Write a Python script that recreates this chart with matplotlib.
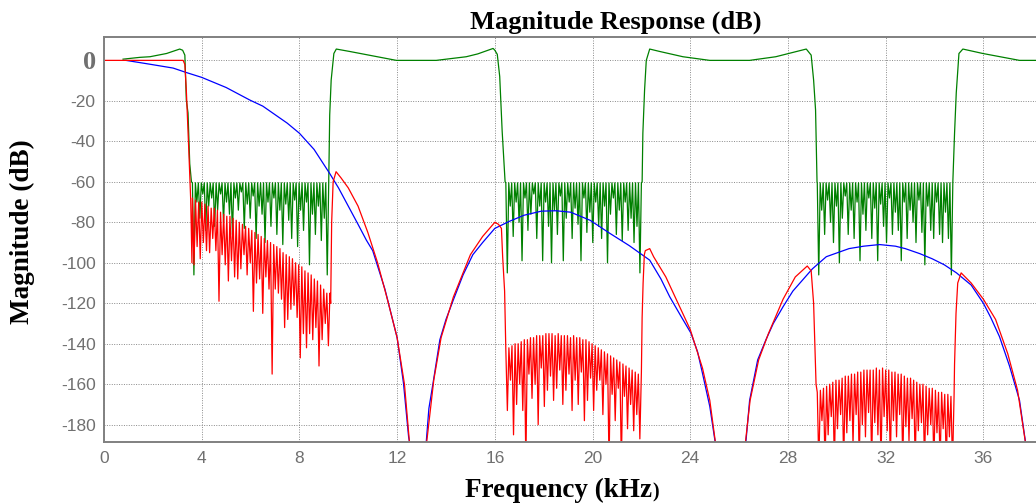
import numpy as np
import matplotlib
matplotlib.use('Agg')
import matplotlib.pyplot as plt

# ---- data (frequency in kHz, magnitude in dB) ----
# blue curve (None = break between lobes)
blue_f = [0.9, 1.88, 2.83, 3.37, 4.0, 5.0, 5.97, 6.5, 7.0, 7.5, 8.0, 8.6, 9.23, 9.6, 10.0, 10.4,
          10.74, 11.0, 11.5, 12.0, 12.26, 12.47, 12.6,
          None,
          13.15, 13.3, 13.47, 13.75, 14.0, 14.3, 14.7, 15.1, 15.5, 16.0, 16.6, 17.2, 17.9, 18.5,
          19.1, 19.9, 20.7, 21.5, 22.34, 22.8, 23.16, 23.6, 24.03, 24.3, 24.5, 24.8, 25.1,
          None,
          26.23, 26.43, 26.76, 27.1, 27.4, 27.8, 28.2, 28.6, 29.0, 29.57, 30.5, 31.1, 31.75, 32.4,
          32.8, 33.4, 33.9, 34.4, 34.9, 35.5, 36.0, 36.3, 36.66, 37.07, 37.48, 37.8]
blue_db = [0, -1.9, -3.8, -6, -8.4, -13.4, -19.6, -22.6, -26.8, -31, -36, -44, -55.7, -63, -72, -81,
           -88.8, -94, -113, -137, -159.5, -186, -195,
           None,
           -195, -172, -159.5, -138, -128, -118.4, -106, -96, -90, -83, -79.5, -76.5, -74.5, -74.3,
           -75, -79, -85.4, -91.5, -98.7, -108, -116.8, -126, -134.8, -144, -154.6, -171, -195,
           None,
           -195, -168, -148, -138, -130, -121.7, -114, -108.5, -103, -97, -93, -91.8, -91, -91.8,
           -93, -95.5, -98, -101, -105, -111, -120, -127, -136.5, -151, -168, -195]

# green curve: passbands / transitions
green_pass_f = [
    [0.78, 1.47, 1.88, 2.56, 3.1, 3.22, 3.31, 3.37, 3.44, 3.51, 3.58],
    [9.2, 9.24, 9.3, 9.41, 9.51, 10.06, 10.88, 11.97, 13.6, 14.83, 15.3, 15.93, 16.0, 16.1, 16.2, 16.3, 16.42],
    [22.03, 22.06, 22.13, 22.2, 22.34, 22.75, 23.7, 24.8, 26.43, 27.5, 28.75, 28.95, 29.05, 29.13, 29.19],
    [34.75, 34.82, 34.89, 35.0, 35.16, 35.98, 37.48, 38.4],
]
green_pass_db = [
    [0.6, 1.5, 1.8, 3.4, 5.6, 5.0, 2.6, -19.6, -26, -51, -60],
    [-60, -27, -9.7, 3.4, 5.6, 4.4, 2.5, 0, 0, 1.8, 3.2, 5.9, 5.0, 3.0, -8, -35, -60],
    [-60, -36, -14.7, 0, 5.6, 4.4, 1.8, 0, 0, 1.8, 5.6, 2.6, -9.7, -24.5, -60],
    [-60, -36, -16, 3.4, 5.6, 3.4, 0, 0],
]
# green stopbands: edges and the depth of each notch
green_stop_edges = [(3.62, 9.2), (16.45, 22.0), (29.2, 34.75)]
green_stop_top = -60.5
green_notch_1 = [-106, -70, -78, -66, -84, -72, -68, -82, -74, -66, -80, -70, -76, -86, -68, -74,
                 -65, -83, -71, -78, -67, -88, -72, -76, -90, -70, -82, -68, -86, -74, -91, -71,
                 -79, -88, -69, -92, -74, -84, -70, -101, -76, -86, -72, -89, -78, -106]
green_notch_2 = [-105, -72, -87, -70, -80, -99, -68, -84, -76, -66, -88, -72, -99, -70, -82, -100,
                 -74, -86, -67, -99, -78, -70, -88, -73, -81, -99, -68, -85, -75, -90, -70, -82,
                 -88, -72, -100, -76, -68, -86, -74, -89, -70, -84, -78, -90, -82, -105]
green_notch_3 = [-106, -74, -86, -69, -80, -90, -72, -100, -78, -67, -86, -74, -88, -70, -99, -76,
                 -84, -68, -88, -73, -99, -71, -82, -90, -68, -86, -75, -84, -99, -70, -88, -74,
                 -80, -90, -69, -85, -101, -72, -84, -88, -70, -86, -90, -75, -88, -106]

# red curve: passband / main lobes
red_pass_f = [
    [0, 3.24, 3.31, 3.37, 3.47, 3.55, 3.6],
    [9.28, 9.32, 9.38, 9.5, 9.7, 10.0, 10.4, 10.8, 11.2, 11.6, 12.0, 12.3, 12.55],
    [13.15, 13.5, 13.8, 14.3, 15.0, 15.5, 16.0, 16.15, 16.27, 16.32, 16.4],
    [22.0, 22.03, 22.07, 22.12, 22.16, 22.34, 22.5, 23.0, 23.5, 24.0, 24.5, 24.8, 25.1],
    [26.2, 26.45, 26.8, 27.2, 27.8, 28.3, 28.79, 28.95, 29.05, 29.1, 29.15],
    [34.82, 34.88, 34.95, 35.09, 35.5, 36.0, 36.5, 37.0, 37.4, 37.8],
]
red_pass_db = [
    [0, 0, -2, -14.7, -44, -69, -100],
    [-120, -80, -60, -55, -58, -63, -72, -85, -100, -118, -137, -160, -195],
    [-195, -158, -137, -117, -96, -87, -80, -81, -83, -97, -114],
    [-154, -127, -110, -96, -94, -93, -97, -107, -120, -133, -152, -168, -195],
    [-195, -168, -148, -135, -118, -107, -101.6, -104, -120, -140, -160],
    [-150, -125, -110, -105, -110, -118, -128, -145, -163, -195],
]
red_stop_edges = [(3.62, 9.25), (16.45, 22.0), (29.2, 34.8)]
red_top_1 = [-68, -69, -70, -70, -71, -72, -73, -73, -74, -75, -76, -77, -77, -78, -79, -80,
             -81, -82, -83, -84, -85, -86, -87, -88, -89, -90, -91, -92, -93, -95, -96, -97,
             -98, -100, -101, -102, -104, -105, -106, -108, -109, -111, -113, -115]
red_dip_1 = [-101, -92, -98, -90, -94, -95, -88, -94, -119, -96, -101, -109, -99, -107, -108, -103,
             -96, -106, -100, -124, -110, -108, -125, -107, -113, -155, -113, -115, -118, -132,
             -128, -123, -121, -127, -147, -135, -142, -135, -138, -132, -151, -138, -130, -141]
red_top_2 = [-143, -142, -141, -140, -140, -139, -138, -138, -137, -137, -136, -136, -136, -135,
             -135, -135, -136, -135, -136, -136, -136, -137, -136, -137, -137, -138, -138, -139,
             -140, -141, -142, -143, -144, -145, -146, -147, -148, -149, -150, -151, -152, -153,
             -154, -155]
red_dip_2 = [-173, -158, -185, -170, -160, -173, -200, -155, -167, -160, -180, -152, -171, -163,
             -156, -168, -162, -153, -170, -163, -155, -173, -158, -170, -154, -178, -168, -157,
             -173, -163, -158, -175, -160, -200, -165, -178, -162, -200, -166, -182, -170, -183,
             -175, -187]
red_top_3 = [-164, -163, -162, -161, -160, -159, -158, -158, -157, -156, -156, -155, -155, -154,
             -154, -153, -153, -153, -153, -152, -153, -152, -153, -153, -154, -154, -155, -155,
             -156, -157, -157, -158, -159, -160, -160, -161, -162, -162, -163, -164, -164, -165,
             -165, -166]
red_dip_3 = [-200, -178, -200, -185, -176, -200, -182, -175, -200, -184, -178, -190, -175, -200,
             -180, -186, -174, -200, -179, -185, -200, -176, -183, -200, -178, -186, -175, -200,
             -181, -188, -177, -200, -183, -179, -200, -185, -180, -200, -184, -200, -182, -200,
             -186, -200]

x_ticks = [0, 4, 8, 12, 16, 20, 24, 28, 32, 36]
y_ticks = [0, -20, -40, -60, -80, -100, -120, -140, -160, -180]


def ripple(f0, f1, tops, dips):
    # alternate lobe tops and notches across the band
    n = len(dips)
    xs = np.linspace(f0, f1, 2 * n + 1)
    ys = []
    for i in range(n):
        ys.append(tops[i])
        ys.append(dips[i])
    ys.append(tops[-1])
    return list(xs), ys


def to_arr(vals):
    return np.array([np.nan if v is None else v for v in vals], dtype=float)


green_pieces = [ripple(a, b, [green_stop_top] * len(n), n)
                for (a, b), n in zip(green_stop_edges, [green_notch_1, green_notch_2, green_notch_3])]
green_f, green_db = [], []
for i in range(len(green_pass_f)):
    green_f += green_pass_f[i]
    green_db += green_pass_db[i]
    if i < len(green_pieces):
        green_f += green_pieces[i][0]
        green_db += green_pieces[i][1]

red_pieces = [ripple(a, b, t, n) for (a, b), t, n in
              zip(red_stop_edges, [red_top_1, red_top_2, red_top_3], [red_dip_1, red_dip_2, red_dip_3])]
# order: pass0, lobes1, pass1 | pass2, lobes2, pass3 | pass4, lobes3, pass5
red_f, red_db = [], []
order = [('p', 0), ('r', 0), ('p', 1), ('n', 0), ('p', 2), ('r', 1), ('p', 3), ('n', 0),
         ('p', 4), ('r', 2), ('p', 5)]
for kind, k in order:
    if kind == 'p':
        red_f += red_pass_f[k]
        red_db += red_pass_db[k]
    elif kind == 'r':
        red_f += red_pieces[k][0]
        red_db += red_pieces[k][1]
    else:
        red_f.append(None)
        red_db.append(None)

# ---- figure ----
W, H = 1036, 504
fig = plt.figure(figsize=(W / 100, H / 100), dpi=100)
ax = fig.add_axes([104 / W, 1 - 442.3 / H, (1042 - 104) / W, (442.3 - 36.7) / H])

ax.plot(green_f, green_db, color='#008000', lw=0.9)
ax.plot(to_arr(blue_f), to_arr(blue_db), color='#0000ff', lw=0.9)
ax.plot(to_arr(red_f), to_arr(red_db), color='#ff0000', lw=0.9)

ax.set_xlim(0, 38.4)
ax.set_ylim(-188.7, 11.7)
ax.set_xticks(x_ticks)
ax.set_yticks(y_ticks)
ax.set_xticklabels([str(v) for v in x_ticks])
ax.set_yticklabels([str(v) for v in y_ticks])
ax.grid(True, linestyle=(0, (1, 1.5)), color='#8a8a8a', lw=0.7)
ax.tick_params(length=0, labelsize=12.5, labelcolor='#707070', pad=6)
for lab in ax.get_xticklabels() + ax.get_yticklabels():
    lab.set_fontfamily('Liberation Sans')
for lab in ax.get_yticklabels():
    if lab.get_text() == '0':
        lab.set_fontfamily('Liberation Serif')
        lab.set_fontweight('bold')
        lab.set_fontsize(19)
for s in ['left', 'top', 'bottom']:
    ax.spines[s].set_color('#808080')
    ax.spines[s].set_linewidth(1.4)
ax.spines['right'].set_visible(False)

serif = dict(family='Liberation Serif', weight='bold', color='black')
fig.text(616 / W, 1 - 22 / H, 'Magnitude Response (dB)', ha='center', va='center', fontsize=19, **serif)
fig.text(22 / W, 1 - 232 / H, 'Magnitude (dB)', ha='center', va='center', rotation=90, fontsize=19.5, **serif)
t = fig.text(465 / W, 1 - 490 / H, 'Frequency (kHz', ha='left', va='center', fontsize=19.5, **serif)
r = fig.canvas.get_renderer()
bb = t.get_window_extent(renderer=r)
fig.text(bb.x1 / W, 1 - 492 / H, ')', ha='left', va='center', fontsize=14.5, **serif)

fig.savefig('out.png', dpi=100)
